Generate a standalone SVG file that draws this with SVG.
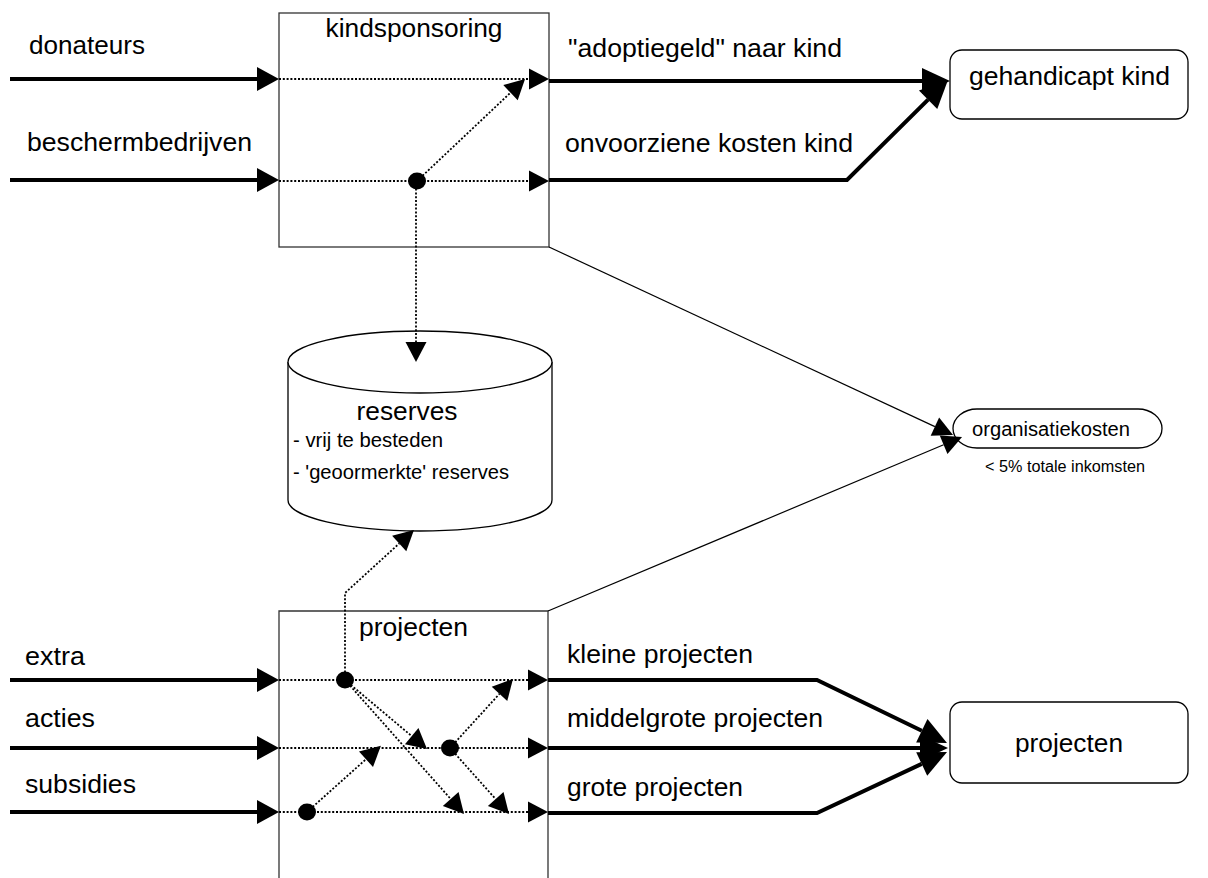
<svg xmlns="http://www.w3.org/2000/svg" width="1208" height="878" viewBox="0 0 1208 878">
  <defs>
    <marker id="mIn" markerUnits="userSpaceOnUse" orient="auto" refX="0" refY="0" markerWidth="30" markerHeight="30" overflow="visible">
      <path d="M0,-12 L22,0 L0,12 Z" fill="#000"/>
    </marker>
    <marker id="mOut" markerUnits="userSpaceOnUse" orient="auto" refX="0" refY="0" markerWidth="30" markerHeight="30" overflow="visible">
      <path d="M0,-13 L28,0 L0,13 Z" fill="#000"/>
    </marker>
    <marker id="mDot" markerUnits="userSpaceOnUse" orient="auto" refX="0" refY="0" markerWidth="24" markerHeight="24" overflow="visible">
      <path d="M0,-10.5 L20,0 L0,10.5 Z" fill="#000"/>
    </marker>
    <marker id="mThin" markerUnits="userSpaceOnUse" orient="auto" refX="0" refY="0" markerWidth="24" markerHeight="24" overflow="visible">
      <path d="M0,-10 L20,0 L0,10 Z" fill="#000"/>
    </marker>
  </defs>
  <style>
    text { font-family: "Liberation Sans", Arial, sans-serif; fill: #000; }
    .lbl { font-size: 25px; }
    .box { fill: #fff; stroke: #333; stroke-width: 1.3; }
    .node { fill: #fff; stroke: #000; stroke-width: 1.3; }
    .in { fill: none; stroke: #000; stroke-width: 4; marker-end: url(#mIn); }
    .out { fill: none; stroke: #000; stroke-width: 4; marker-end: url(#mOut); }
    .dota { fill: none; stroke: #000; stroke-width: 1.8; stroke-dasharray: 2 1.8; marker-end: url(#mDot); }
    .thin { fill: none; stroke: #000; stroke-width: 1.2; marker-end: url(#mThin); }
    .jn { fill: #000; }
  </style>

  <rect width="1208" height="878" fill="#fff"/>

  <g id="kindsponsoring">
    <rect class="box" x="279" y="13" width="270" height="234"/>
    <text class="lbl" x="414" y="37" text-anchor="middle" textLength="177" lengthAdjust="spacingAndGlyphs">kindsponsoring</text>
  </g>

  <g id="projecten-box">
    <path class="box" d="M279,882 V611 H548 V882"/>
    <text class="lbl" x="359" y="636" textLength="109" lengthAdjust="spacingAndGlyphs">projecten</text>
  </g>

  <g id="reserves">
    <path class="node" d="M288,362 A132,31 0 0 1 552,362 V500 A132,31 0 0 1 288,500 Z"/>
    <path class="node" fill="none" d="M288,362 A132,31 0 0 0 552,362"/>
    <text x="407" y="420" font-size="26" text-anchor="middle" textLength="101" lengthAdjust="spacingAndGlyphs">reserves</text>
    <text x="293" y="447" font-size="20" textLength="150" lengthAdjust="spacingAndGlyphs">- vrij te besteden</text>
    <text x="293" y="479" font-size="20" textLength="216" lengthAdjust="spacingAndGlyphs">- 'geoormerkte' reserves</text>
  </g>

  <g id="gehandicapt-kind">
    <rect class="node" x="950" y="50" width="238" height="69" rx="12" ry="12"/>
    <text class="lbl" x="969" y="85" textLength="201" lengthAdjust="spacingAndGlyphs">gehandicapt kind</text>
  </g>

  <g id="organisatiekosten">
    <rect class="node" x="953" y="409" width="209" height="39" rx="24" ry="19.5"/>
    <text x="972" y="436" font-size="20" textLength="158" lengthAdjust="spacingAndGlyphs">organisatiekosten</text>
    <text x="985" y="472" font-size="16" textLength="160" lengthAdjust="spacingAndGlyphs">&lt; 5% totale inkomsten</text>
  </g>

  <g id="projecten-node">
    <rect class="node" x="950" y="702" width="238" height="81" rx="12" ry="12"/>
    <text class="lbl" x="1015" y="752" textLength="108" lengthAdjust="spacingAndGlyphs">projecten</text>
  </g>

  <g id="connectors">
    <path class="in" d="M10,79 H257"/>
    <path class="in" d="M10,180 H257"/>
    <path class="dota" d="M279,79 H529"/>
    <path class="dota" d="M279,181 H529"/>
    <path class="dota" d="M417,181 L510.5,92.7"/>
    <path class="dota" d="M416,181 V342"/>
    <ellipse class="jn" cx="417" cy="181" rx="9" ry="8.5"/>
    <path class="out" d="M549,81 H922"/>
    <path class="out" d="M549,180 H847 L928.1,99.7"/>
    <path class="thin" d="M549,247 L934.9,426.6"/>
    <path class="thin" d="M548,611 L943.6,444.8"/>
    <path class="in" d="M10,680 H257"/>
    <path class="in" d="M10,748 H257"/>
    <path class="in" d="M10,812 H257"/>
    <path class="dota" d="M279,680 H528"/>
    <path class="dota" d="M279,748 H528"/>
    <path class="dota" d="M279,812 H528"/>
    <path class="dota" d="M345,680 V593 L399.2,543.5"/>
    <path class="dota" d="M345,680 L411.7,736.1"/>
    <path class="dota" d="M345,680 L450.7,799"/>
    <path class="dota" d="M450,748 L499.5,693.8"/>
    <path class="dota" d="M450,748 L495.7,799.1"/>
    <path class="dota" d="M307,812 L366,759.2"/>
    <ellipse class="jn" cx="345" cy="680" rx="9" ry="8.5"/>
    <ellipse class="jn" cx="450" cy="748" rx="9" ry="8.5"/>
    <ellipse class="jn" cx="307" cy="812" rx="9" ry="8.5"/>
    <path class="out" d="M548,680 H817 L921.8,730.8"/>
    <path class="out" d="M548,748 H920"/>
    <path class="out" d="M548,813 H817 L921.7,763.9"/>
  </g>

  <g id="edge-labels">
    <text class="lbl" x="29" y="54" textLength="116" lengthAdjust="spacingAndGlyphs">donateurs</text>
    <text class="lbl" x="27" y="151" textLength="225" lengthAdjust="spacingAndGlyphs">beschermbedrijven</text>
    <text class="lbl" x="568" y="57" textLength="274" lengthAdjust="spacingAndGlyphs">"adoptiegeld" naar kind</text>
    <text class="lbl" x="565" y="152" textLength="288" lengthAdjust="spacingAndGlyphs">onvoorziene kosten kind</text>
    <text class="lbl" x="25" y="665" textLength="60" lengthAdjust="spacingAndGlyphs">extra</text>
    <text class="lbl" x="25" y="727" textLength="70" lengthAdjust="spacingAndGlyphs">acties</text>
    <text class="lbl" x="25" y="793" textLength="111" lengthAdjust="spacingAndGlyphs">subsidies</text>
    <text class="lbl" x="567" y="663" textLength="186" lengthAdjust="spacingAndGlyphs">kleine projecten</text>
    <text class="lbl" x="567" y="727" textLength="256" lengthAdjust="spacingAndGlyphs">middelgrote projecten</text>
    <text class="lbl" x="567" y="796" textLength="176" lengthAdjust="spacingAndGlyphs">grote projecten</text>
  </g>
</svg>
